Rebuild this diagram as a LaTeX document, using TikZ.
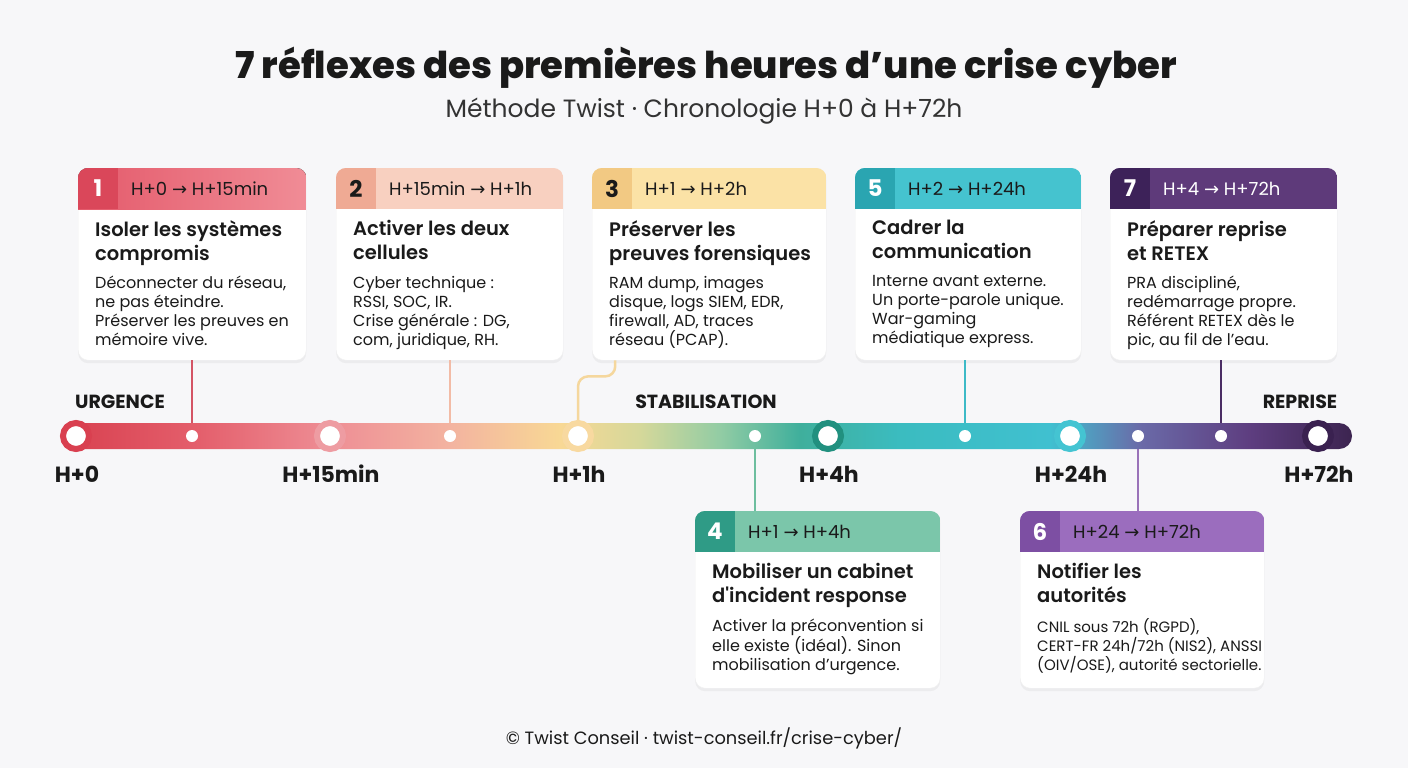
\documentclass[tikz,border=0pt]{standalone}
\usepackage{fontspec}
\setmainfont{Poppins}
\newfontfamily\arrowfont{DejaVu Sans}
\newfontfamily\heavyfont{Poppins ExtraBold}
\newfontfamily\semifont{Poppins SemiBold}
\usetikzlibrary{positioning}
\usetikzlibrary{shadows}
\usetikzlibrary{calc}

\definecolor{bg}{HTML}{F7F7F9}
\definecolor{ink}{HTML}{1A1A1A}
\definecolor{grey}{HTML}{333333}
% couleurs des cartes (entete, carre, lien)
\definecolor{h1a}{HTML}{E45A6B}
\definecolor{h1}{HTML}{F08C96}\definecolor{s1}{HTML}{DA475A}\definecolor{l1}{HTML}{D45465}
\definecolor{h2}{HTML}{F8D0C0}\definecolor{s2}{HTML}{EFAA94}\definecolor{l2}{HTML}{F2BBA6}
\definecolor{h3}{HTML}{FBE2A6}\definecolor{s3}{HTML}{F2C983}\definecolor{l3}{HTML}{F5D79D}
\definecolor{h4}{HTML}{7BC6AA}\definecolor{s4}{HTML}{2F9B86}\definecolor{l4}{HTML}{6DBE9F}
\definecolor{h5}{HTML}{45C3CF}\definecolor{s5}{HTML}{2AA5B1}\definecolor{l5}{HTML}{3DBAC7}
\definecolor{h6}{HTML}{9B6DBE}\definecolor{s6}{HTML}{7D4FA3}\definecolor{l6}{HTML}{9A72B9}
\definecolor{h7}{HTML}{5E3A7A}\definecolor{s7}{HTML}{3D2259}\definecolor{l7}{HTML}{4A2D64}
% anneaux de la frise
\definecolor{r0}{HTML}{D94050}\definecolor{r1}{HTML}{EE9CA2}\definecolor{r2}{HTML}{F8D9A0}
\definecolor{r3}{HTML}{21907F}\definecolor{r4}{HTML}{44C4D2}\definecolor{r5}{HTML}{3A2150}
% degrade de la frise
\definecolor{tl0}{HTML}{D8404F}\definecolor{tl1}{HTML}{E45F6C}\definecolor{tl2}{HTML}{EE8E95}
\definecolor{tl3}{HTML}{F3B3A0}\definecolor{tl4}{HTML}{F8D895}\definecolor{tl5}{HTML}{D5D89A}
\definecolor{tl6}{HTML}{92CCA4}\definecolor{tl7}{HTML}{3FAF9C}\definecolor{tl8}{HTML}{3BBCC0}
\definecolor{tl9}{HTML}{40C0D0}\definecolor{tl10}{HTML}{6A6AA8}\definecolor{tl11}{HTML}{5E3E80}
\definecolor{tl12}{HTML}{3C2450}
\pgfdeclarehorizontalshading{timeline}{100bp}{color(0bp)=(tl0); color(25bp)=(tl0);
  color(30.3bp)=(tl1); color(35.4bp)=(tl2); color(40bp)=(tl3); color(44.3bp)=(tl4);
  color(47.4bp)=(tl5); color(50.5bp)=(tl6); color(53.6bp)=(tl7); color(57.5bp)=(tl8);
  color(63.3bp)=(tl9); color(66.8bp)=(tl10); color(71bp)=(tl11); color(75bp)=(tl12);
  color(100bp)=(tl12)}

\newcommand{\fleche}{{\arrowfont →}}

\tikzset{
  bigtitle/.style={font=\fontsize{37}{42}\heavyfont, text=ink},
  subtitle/.style={font=\fontsize{25}{30}\selectfont, text=grey},
  card/.style={rectangle, rounded corners=10pt, fill=white, draw=black!6, inner sep=0pt,
    drop shadow={shadow xshift=0pt, shadow yshift=-3pt, opacity=0.09}},
  numtext/.style={font=\fontsize{23}{26}\selectfont\bfseries, text=white},
  rangetext/.style={font=\fontsize{18}{22}\selectfont, text=ink, anchor=west, inner sep=0pt},
  ctitle/.style={font=\fontsize{19.5}{24}\semifont, text=ink, align=left, inner sep=0pt,
    execute at begin node=\rule{0pt}{21pt}, execute at end node=\rule[-6pt]{0pt}{6pt}},
  cbody/.style={font=\fontsize{16}{19}\selectfont, text=ink, align=left, inner sep=0pt,
    execute at begin node=\rule{0pt}{14pt}},
  link/.style={line width=2.5pt},
  major/.style={circle, fill=white, line width=6pt, minimum size=26pt, inner sep=0pt},
  minor/.style={circle, fill=white, minimum size=12pt, inner sep=0pt},
  timelabel/.style={font=\fontsize{22}{26}\selectfont\bfseries, text=ink},
  phase/.style={font=\fontsize{19}{22}\selectfont\bfseries, text=ink},
}

% #1 nom, #2 coin, #3 taille, #4 entete, #5 carre, #6 numero, #7 horaire, #8 titre, #9 texte
\newcommand{\reflexe}[9]{%
  \node (#1) [card, #3, anchor=north west] at (#2) {};
  \begin{scope}
    \clip[rounded corners=10pt] (#1.north west) rectangle (#1.south east);
    \fill[#4] (#1.north west) rectangle ([yshift=-41pt]#1.north east);
    \fill[#5] (#1.north west) rectangle ([xshift=40pt,yshift=-41pt]#1.north west);
  \end{scope}
  \node (#1num) [numtext] at ([xshift=20pt,yshift=-20.5pt]#1.north west) {#6};
  \node (#1range) [rangetext] at ([xshift=53pt,yshift=-20.5pt]#1.north west) {#7};
  \node (#1title) [ctitle, anchor=north west] at ([xshift=17pt,yshift=-52pt]#1.north west) {#8};
  \node (#1body) [cbody, below right=10pt and 0pt of #1title.south west] {#9};
}

\begin{document}
\begin{tikzpicture}[x=1pt,y=-1pt]
\fill[bg] (0,0) rectangle (1408,768);

\node (titre) [bigtitle] at (706,68) {7 réflexes des premières heures d’une crise cyber};
\node (soustitre) [subtitle] at (704,111) {Méthode Twist · Chronologie H+0 à H+72h};

% cartes
\reflexe{c1}{78,168}{minimum width=228pt, minimum height=192pt}{left color=h1a, right color=h1}{s1}{1}{H+0 \fleche{} H+15min}%
  {Isoler les systèmes\\compromis}{Déconnecter du réseau,\\ne pas éteindre.\\Préserver les preuves en\\mémoire vive.}
\reflexe{c2}{336,168}{minimum width=227pt, minimum height=192pt}{h2}{s2}{\color{ink}2}{H+15min \fleche{} H+1h}%
  {Activer les deux\\cellules}{Cyber technique :\\RSSI, SOC, IR.\\Crise générale : DG,\\com, juridique, RH.}
\reflexe{c3}{592,168}{minimum width=234pt, minimum height=192pt}{h3}{s3}{\color{ink}3}{H+1 \fleche{} H+2h}%
  {Préserver les\\preuves forensiques}{RAM dump, images\\disque, logs SIEM, EDR,\\firewall, AD, traces\\réseau (PCAP).}
\reflexe{c5}{855,168}{minimum width=226pt, minimum height=192pt}{h5}{s5}{5}{H+2 \fleche{} H+24h}%
  {Cadrer la\\communication}{Interne avant externe.\\Un porte-parole unique.\\War-gaming\\médiatique express.}
\reflexe{c7}{1110,168}{minimum width=227pt, minimum height=192pt}{h7}{s7}{7}{\color{white}H+4 \fleche{} H+72h}%
  {Préparer reprise\\et RETEX}{PRA discipliné,\\redémarrage propre.\\Référent RETEX dès le\\pic, au fil de l'eau.}
\reflexe{c4}{695,511}{minimum width=245pt, minimum height=177pt}{h4}{s4}{4}{H+1 \fleche{} H+4h}%
  {Mobiliser un cabinet\\d'incident response}{Activer la préconvention si\\elle existe (idéal). Sinon\\mobilisation d’urgence.}
\begin{scope}[cbody/.append style={font=\fontsize{15}{19}\selectfont}]
\reflexe{c6}{1020,511}{minimum width=244pt, minimum height=177pt}{h6}{s6}{6}{H+24 \fleche{} H+72h}%
  {Notifier les\\autorités}{CNIL sous 72h (RGPD),\\CERT-FR 24h/72h (NIS2), ANSSI\\(OIV/OSE), autorité sectorielle.}
\end{scope}

% points de la frise
\foreach \x [count=\i from 0] in {76,330,578,828,1070,1318}
  \coordinate (t\i) at (\x,436);
\foreach \x [count=\i] in {192,450,755,965,1138,1221}
  \coordinate (d\i) at (\x,436);

% liens
\draw[link, l1] (c1.south -| d1) -- (d1);
\draw[link, l2] (c2.south -| d2) -- (d2);
\draw[link, l3, rounded corners=10pt] ([xshift=-94pt]c3.south) -- ++(0,16) -| (t2);
\draw[link, l4] (d3) -- (c4.north -| d3);
\draw[link, l5] (c5.south -| d4) -- (d4);
\draw[link, l6] (d5) -- (c6.north -| d5);
\draw[link, l7] (c7.south -| d6) -- (d6);

% frise
\shade[shading=timeline, rounded corners=13pt] (62,423) rectangle (1352,449);
\foreach \i in {1,...,6}
  \node (dot\i) [minor] at (d\i) {};
\foreach \i/\lab in {0/H+0,1/H+15min,2/H+1h,3/H+4h,4/H+24h,5/H+72h} {
  \node (time\i) [major, draw=r\i] at (t\i) {};
  \node (lab\i) [timelabel] at ($(t\i)+(1,38)$) {\lab};
}

% phases
\node (urgence) [phase] at (120,402) {URGENCE};
\node (stabil) [phase] at (706,402) {STABILISATION};
\node (reprise) [phase] at (1300,402) {REPRISE};

\node (pied) [font=\fontsize{17.8}{21}\selectfont, text=ink] at (704,738) {© Twist Conseil · twist-conseil.fr/crise-cyber/};
\end{tikzpicture}
\end{document}
